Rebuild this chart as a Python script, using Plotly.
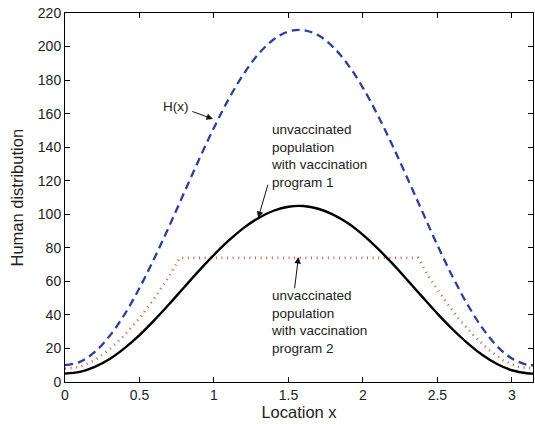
import plotly.graph_objects as go
import math

# Data
x_vals = [0.0, 0.1, 0.2, 0.3, 0.4, 0.5, 0.6, 0.7, 0.8, 0.9, 1.0, 1.1, 1.2, 1.3, 1.4, 1.5,
          1.6, 1.7, 1.8, 1.9, 2.0, 2.1, 2.2, 2.3, 2.4, 2.5, 2.6, 2.7, 2.8, 2.9, 3.0, 3.1, math.pi]
H_vals = [10, 12, 17.9, 27.5, 40.3, 56, 73.8, 93, 112.9, 132.7, 151.6, 168.9, 183.7, 195.7,
          204.2, 209, 209.8, 206.7, 199.7, 189.1, 175.4, 159, 140.7, 121.2, 101.3, 81.6, 63.1,
          46.5, 32.4, 21.4, 14, 10.3, 10]
prog1_vals = [5, 6, 9, 13.7, 20.2, 28, 36.9, 46.5, 56.5, 66.4, 75.8, 84.4, 91.9, 97.8, 102.1,
              104.5, 104.9, 103.3, 99.8, 94.6, 87.7, 79.5, 70.4, 60.6, 50.6, 40.8, 31.6, 23.3,
              16.2, 10.7, 7, 5.2, 5]
prog2_x = [0.0, 0.1, 0.2, 0.3, 0.4, 0.5, 0.6, 0.7, 0.77, 2.37, 2.44, 2.54, 2.64, 2.74,
           2.84, 2.94, 3.04, math.pi]
prog2_vals = [8, 9, 13, 19.5, 28, 38, 50, 63, 74, 74, 63, 50, 38, 28, 19.5, 13, 9, 8]

x_ticks = [0, 0.5, 1, 1.5, 2, 2.5, 3]
y_ticks = list(range(0, 221, 20))

fig = go.Figure()
fig.add_trace(go.Scatter(x=x_vals, y=H_vals, mode="lines", line_shape="spline",
                         line=dict(color="#2a3f9e", width=2.3, dash="8px,5px")))
fig.add_trace(go.Scatter(x=prog2_x, y=prog2_vals, mode="lines", line_shape="linear",
                         line=dict(color="#c96440", width=2.6, dash="1px,4.6px")))
fig.add_trace(go.Scatter(x=x_vals, y=prog1_vals, mode="lines", line_shape="spline",
                         line=dict(color="black", width=2.4)))

FAM = "Liberation Sans, Arial, sans-serif"
fnt = dict(family=FAM, size=13.5, color="#222")

annotations = [
    dict(x=0.993, y=156.8, ax=0.845, ay=161.6, axref="x", ayref="y", xref="x", yref="y",
         text="", showarrow=True, arrowhead=2, arrowsize=1.3, arrowwidth=1, arrowcolor="#111"),
    dict(x=0.745, y=164, xref="x", yref="y", text="H(x)", showarrow=False, font=fnt,
         xanchor="center", yanchor="middle"),
    dict(x=1.297, y=97.8, ax=1.365, ay=118.5, axref="x", ayref="y", xref="x", yref="y",
         text="", showarrow=True, arrowhead=2, arrowsize=1.3, arrowwidth=1, arrowcolor="#111"),
    dict(x=1.37, y=134.5, xref="x", yref="y",
         text="unvaccinated<br>population<br>with vaccination<br>program 1",
         showarrow=False, font=fnt, xanchor="left", yanchor="middle", align="left"),
    dict(x=1.567, y=74.5, ax=1.54, ay=55, axref="x", ayref="y", xref="x", yref="y",
         text="", showarrow=True, arrowhead=2, arrowsize=1.3, arrowwidth=1, arrowcolor="#111"),
    dict(x=1.37, y=35.5, xref="x", yref="y",
         text="unvaccinated<br>population<br>with vaccination<br>program 2",
         showarrow=False, font=fnt, xanchor="left", yanchor="middle", align="left"),
    dict(x=(16 - 65) / 468, y=0.5, xref="paper", yref="paper", text="Human distribution",
         textangle=-90, showarrow=False, xanchor="center", yanchor="middle",
         font=dict(family=FAM, size=16.5, color="#222")),
]

axis_common = dict(showgrid=False, zeroline=False, showline=True, linecolor="black",
                   linewidth=1, mirror="ticks", ticks="inside", ticklen=5, tickcolor="black",
                   tickfont=dict(family=FAM, size=14, color="#222"))

fig.update_layout(
    width=535, height=424,
    margin=dict(l=65, r=2, t=13, b=42),
    paper_bgcolor="white", plot_bgcolor="white",
    showlegend=False,
    annotations=annotations,
    xaxis=dict(range=[0, math.pi], tickvals=x_ticks, ticktext=[str(t) for t in x_ticks],
               title=dict(text="Location x", standoff=0,
                          font=dict(family=FAM, size=16.5, color="#222")),
               **axis_common),
    yaxis=dict(range=[0, 220], tickvals=y_ticks, **axis_common),
)

fig.write_html("out.html")
